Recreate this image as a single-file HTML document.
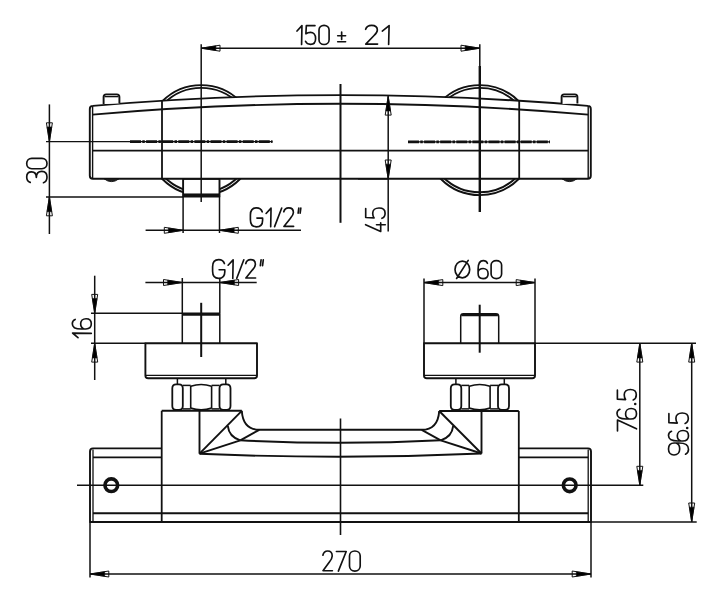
<!DOCTYPE html>
<html><head><meta charset="utf-8"><style>
html,body{margin:0;padding:0;background:#fff;}
svg{display:block;}
</style></head><body>
<svg width="716" height="600" viewBox="0 0 716 600">
<rect width="716" height="600" fill="#fff"/>
<g>
<path d="M 297.00 31.06 L 301.95 25.59 L 301.59 44.50" fill="none" stroke="#111" stroke-width="1.65" stroke-linecap="round" stroke-linejoin="round"/>
<path d="M 314.99 25.68 L 306.31 25.68 L 305.90 33.75 C 307.12 32.88 308.73 32.40 310.45 32.40 C 313.58 32.40 315.60 34.90 315.60 38.45 C 315.60 42.10 313.58 44.31 310.55 44.31 C 308.13 44.31 306.31 43.16 305.50 41.24" fill="none" stroke="#111" stroke-width="1.65" stroke-linecap="round" stroke-linejoin="round"/>
<path d="M 319.00 30.10 C 319.00 27.22 321.22 25.30 324.05 25.30 C 326.88 25.30 329.10 27.22 329.10 30.10 L 329.10 39.70 C 329.10 42.58 326.88 44.50 324.05 44.50 C 321.22 44.50 319.00 42.58 319.00 39.70 Z" fill="none" stroke="#111" stroke-width="1.65" stroke-linecap="round" stroke-linejoin="round"/>
<path d="M 341.65 32.00 L 341.65 39.47 M 337.70 35.74 L 345.60 35.74 M 337.70 41.70 L 345.60 41.70" fill="none" stroke="#111" stroke-width="1.65" stroke-linecap="round" stroke-linejoin="round"/>
<path d="M 365.64 29.33 C 366.38 26.74 368.69 25.30 371.62 25.30 C 375.16 25.30 377.36 27.22 377.36 30.00 C 377.36 32.21 375.89 33.84 373.82 35.76 L 365.77 44.12 L 377.60 44.12" fill="none" stroke="#111" stroke-width="1.65" stroke-linecap="round" stroke-linejoin="round"/>
<path d="M 382.30 31.06 L 389.11 25.59 L 388.63 44.50" fill="none" stroke="#111" stroke-width="1.65" stroke-linecap="round" stroke-linejoin="round"/>
<path d="M 30.25 182.36 C 27.92 181.56 26.70 179.51 26.70 177.00 C 26.70 174.04 28.53 171.87 31.57 171.87 C 34.52 171.87 36.34 174.15 36.34 177.46 C 36.34 173.58 38.58 171.30 41.82 171.30 C 45.17 171.30 47.00 173.81 47.00 177.00 C 47.00 179.85 45.78 181.90 43.45 182.70" fill="none" stroke="#111" stroke-width="1.65" stroke-linecap="round" stroke-linejoin="round"/>
<path d="M 31.77 168.70 C 28.73 168.70 26.70 166.41 26.70 163.50 C 26.70 160.59 28.73 158.30 31.77 158.30 L 41.92 158.30 C 44.97 158.30 47.00 160.59 47.00 163.50 C 47.00 166.41 44.97 168.70 41.92 168.70 Z" fill="none" stroke="#111" stroke-width="1.65" stroke-linecap="round" stroke-linejoin="round"/>
<path d="M 262.19 211.79 C 261.38 209.13 259.35 207.80 256.50 207.80 C 252.64 207.80 250.40 210.65 250.40 214.93 L 250.40 219.68 C 250.40 223.95 252.64 226.80 256.50 226.80 C 260.36 226.80 262.60 224.43 262.60 220.15 L 262.60 218.06 L 256.91 218.06" fill="none" stroke="#111" stroke-width="1.65" stroke-linecap="round" stroke-linejoin="round"/>
<path d="M 266.10 213.50 L 271.05 208.09 L 270.69 226.80" fill="none" stroke="#111" stroke-width="1.65" stroke-linecap="round" stroke-linejoin="round"/>
<path d="M 281.72 207.99 L 274.58 226.61" fill="none" stroke="#111" stroke-width="1.65" stroke-linecap="round" stroke-linejoin="round"/>
<path d="M 283.80 211.79 C 284.40 209.23 286.30 207.80 288.70 207.80 C 291.60 207.80 293.40 209.70 293.40 212.46 C 293.40 214.64 292.20 216.26 290.50 218.16 L 283.90 226.42 L 293.60 226.42" fill="none" stroke="#111" stroke-width="1.65" stroke-linecap="round" stroke-linejoin="round"/>
<path d="M 298.81 208.08 L 298.15 213.12 M 300.82 208.08 L 300.15 213.12" fill="none" stroke="#111" stroke-width="1.65" stroke-linecap="round" stroke-linejoin="round"/>
<path d="M 365.60 224.70 L 380.70 231.40 L 380.70 222.70 M 376.50 224.70 L 385.30 224.70" fill="none" stroke="#111" stroke-width="1.65" stroke-linecap="round" stroke-linejoin="round"/>
<path d="M 365.70 208.62 L 365.70 217.48 L 374.10 217.89 C 373.20 216.65 372.70 215.00 372.70 213.25 C 372.70 210.06 375.30 208.00 379.00 208.00 C 382.80 208.00 385.10 210.06 385.10 213.15 C 385.10 215.62 383.90 217.48 381.90 218.30" fill="none" stroke="#111" stroke-width="1.65" stroke-linecap="round" stroke-linejoin="round"/>
<path d="M 224.39 263.55 C 223.58 260.92 221.55 259.60 218.70 259.60 C 214.84 259.60 212.60 262.42 212.60 266.65 L 212.60 271.35 C 212.60 275.58 214.84 278.40 218.70 278.40 C 222.56 278.40 224.80 276.05 224.80 271.82 L 224.80 269.75 L 219.11 269.75" fill="none" stroke="#111" stroke-width="1.65" stroke-linecap="round" stroke-linejoin="round"/>
<path d="M 228.10 265.24 L 233.14 259.88 L 232.78 278.40" fill="none" stroke="#111" stroke-width="1.65" stroke-linecap="round" stroke-linejoin="round"/>
<path d="M 243.82 259.79 L 236.78 278.21" fill="none" stroke="#111" stroke-width="1.65" stroke-linecap="round" stroke-linejoin="round"/>
<path d="M 245.80 263.55 C 246.40 261.01 248.30 259.60 250.70 259.60 C 253.60 259.60 255.40 261.48 255.40 264.21 C 255.40 266.37 254.20 267.97 252.50 269.85 L 245.90 278.02 L 255.60 278.02" fill="none" stroke="#111" stroke-width="1.65" stroke-linecap="round" stroke-linejoin="round"/>
<path d="M 261.09 259.92 L 260.35 265.69 M 263.28 259.92 L 262.55 265.69" fill="none" stroke="#111" stroke-width="1.65" stroke-linecap="round" stroke-linejoin="round"/>
<path d="M 462.35 261.10 C 466.40 261.10 469.70 264.90 469.70 269.50 C 469.70 274.10 466.40 277.80 462.35 277.80 C 458.30 277.80 455.00 274.10 455.00 269.50 C 455.00 264.90 458.30 261.10 462.35 261.10 Z M 468.20 260.40 L 456.60 278.50" fill="none" stroke="#111" stroke-width="1.65" stroke-linecap="round" stroke-linejoin="round"/>
<path d="M 487.40 263.30 C 486.70 261.50 485.10 260.60 483.30 260.60 C 480.10 260.60 478.10 263.30 478.10 269.15 L 478.10 273.47 C 478.10 276.80 480.30 278.60 483.10 278.60 C 485.90 278.60 488.10 276.80 488.10 273.65 C 488.10 270.50 485.90 268.52 483.10 268.52 C 480.60 268.52 478.70 269.78 478.10 271.85" fill="none" stroke="#111" stroke-width="1.65" stroke-linecap="round" stroke-linejoin="round"/>
<path d="M 491.10 265.10 C 491.10 262.40 493.41 260.60 496.35 260.60 C 499.29 260.60 501.60 262.40 501.60 265.10 L 501.60 274.10 C 501.60 276.80 499.29 278.60 496.35 278.60 C 493.41 278.60 491.10 276.80 491.10 274.10 Z" fill="none" stroke="#111" stroke-width="1.65" stroke-linecap="round" stroke-linejoin="round"/>
<path d="M 78.00 337.60 L 72.58 333.12 L 91.30 333.44" fill="none" stroke="#111" stroke-width="1.65" stroke-linecap="round" stroke-linejoin="round"/>
<path d="M 75.15 319.42 C 73.25 320.14 72.30 321.79 72.30 323.64 C 72.30 326.94 75.15 329.00 81.33 329.00 L 85.88 329.00 C 89.40 329.00 91.30 326.73 91.30 323.85 C 91.30 320.97 89.40 318.70 86.08 318.70 C 82.75 318.70 80.66 320.97 80.66 323.85 C 80.66 326.43 81.99 328.38 84.17 329.00" fill="none" stroke="#111" stroke-width="1.65" stroke-linecap="round" stroke-linejoin="round"/>
<path d="M 322.89 555.22 C 323.48 552.51 325.32 551.00 327.65 551.00 C 330.46 551.00 332.21 553.01 332.21 555.92 C 332.21 558.24 331.04 559.94 329.39 561.95 L 322.99 570.70 L 332.40 570.70" fill="none" stroke="#111" stroke-width="1.65" stroke-linecap="round" stroke-linejoin="round"/>
<path d="M 336.40 551.50 L 346.20 551.50 L 338.36 571.10" fill="none" stroke="#111" stroke-width="1.65" stroke-linecap="round" stroke-linejoin="round"/>
<path d="M 349.50 556.02 C 349.50 553.01 351.85 551.00 354.85 551.00 C 357.85 551.00 360.20 553.01 360.20 556.02 L 360.20 566.08 C 360.20 569.09 357.85 571.10 354.85 571.10 C 351.85 571.10 349.50 569.09 349.50 566.08 Z" fill="none" stroke="#111" stroke-width="1.65" stroke-linecap="round" stroke-linejoin="round"/>
<path d="M 617.49 431.00 L 617.49 420.00 L 636.50 428.80" fill="none" stroke="#111" stroke-width="1.65" stroke-linecap="round" stroke-linejoin="round"/>
<path d="M 619.92 409.24 C 617.98 409.97 617.00 411.65 617.00 413.54 C 617.00 416.90 619.92 419.00 626.26 419.00 L 630.94 419.00 C 634.55 419.00 636.50 416.69 636.50 413.75 C 636.50 410.81 634.55 408.50 631.14 408.50 C 627.73 408.50 625.58 410.81 625.58 413.75 C 625.58 416.38 626.95 418.37 629.19 419.00" fill="none" stroke="#111" stroke-width="1.65" stroke-linecap="round" stroke-linejoin="round"/>
<circle cx="635.23" cy="404.00" r="1.3" fill="#111"/>
<path d="M 617.39 390.13 L 617.39 399.16 L 625.58 399.58 C 624.70 398.32 624.22 396.64 624.22 394.86 C 624.22 391.60 626.75 389.50 630.36 389.50 C 634.06 389.50 636.30 391.60 636.30 394.75 C 636.30 397.27 635.13 399.16 633.18 400.00" fill="none" stroke="#111" stroke-width="1.65" stroke-linecap="round" stroke-linejoin="round"/>
<path d="M 685.50 454.16 C 687.50 453.32 688.50 451.40 688.50 449.24 C 688.50 445.40 685.50 443.00 679.00 443.00 L 674.20 443.00 C 670.50 443.00 668.50 445.64 668.50 449.00 C 668.50 452.36 670.50 455.00 674.00 455.00 C 677.50 455.00 679.70 452.36 679.70 449.00 C 679.70 446.00 678.30 443.72 676.00 443.00" fill="none" stroke="#111" stroke-width="1.65" stroke-linecap="round" stroke-linejoin="round"/>
<path d="M 671.50 431.24 C 669.50 431.97 668.50 433.65 668.50 435.54 C 668.50 438.90 671.50 441.00 678.00 441.00 L 682.80 441.00 C 686.50 441.00 688.50 438.69 688.50 435.75 C 688.50 432.81 686.50 430.50 683.00 430.50 C 679.50 430.50 677.30 432.81 677.30 435.75 C 677.30 438.38 678.70 440.37 681.00 441.00" fill="none" stroke="#111" stroke-width="1.65" stroke-linecap="round" stroke-linejoin="round"/>
<circle cx="687.20" cy="428.00" r="1.3" fill="#111"/>
<path d="M 668.90 413.63 L 668.90 422.66 L 677.30 423.08 C 676.40 421.82 675.90 420.14 675.90 418.36 C 675.90 415.10 678.50 413.00 682.20 413.00 C 686.00 413.00 688.30 415.10 688.30 418.25 C 688.30 420.77 687.10 422.66 685.10 423.50" fill="none" stroke="#111" stroke-width="1.65" stroke-linecap="round" stroke-linejoin="round"/>
</g>
<g fill="none" stroke="#111" stroke-width="1.9" stroke-linecap="butt" stroke-linejoin="round">
<circle cx="201.20" cy="140.10" r="55" />
<circle cx="201.20" cy="140.10" r="52.2" />
<circle cx="479.80" cy="140.10" r="55" />
<circle cx="479.80" cy="140.10" r="52.2" />
<path d="M183.10 178.8 L183.10 196.5 L219.50 196.5 L219.50 178.8 Z" fill="#fff"/>
<path d="M183.10 178.6 Q187.10 177.2 191.10 177.2 L211.50 177.2 Q215.50 177.2 219.50 178.6" />
<rect x="183.60" y="193.9" width="35.40" height="2.6" fill="#111" stroke-width="0.8"/>
<path d="M89.8 109 Q89.8 106 92.8 105.9 A2846 2846 0 0 1 587.8 105.9 Q590.8 106 590.8 109 L590.8 175.8 Q590.8 178.8 587.8 178.8 L92.8 178.8 Q89.8 178.8 89.8 175.8 Z" fill="#fff"/>
<line x1="92.60" y1="106.00" x2="92.60" y2="178.80" stroke-width="1.4"/>
<line x1="588.20" y1="106.00" x2="588.20" y2="178.80" stroke-width="1.4"/>
<path d="M92.6 114.6 A2846 2846 0 0 1 588.2 114.6"/>
<line x1="92.60" y1="150.60" x2="588.20" y2="150.60"/>
<line x1="162.00" y1="100.50" x2="162.00" y2="178.80" stroke-width="1.8"/>
<line x1="519.20" y1="100.50" x2="519.20" y2="178.80" stroke-width="1.8"/>
<path d="M103.60 104 L103.60 97 Q103.60 94.4 106.20 94.4 L116.80 94.4 Q119.40 94.4 119.40 97 L119.40 103.5" fill="#fff"/>
<line x1="104.60" y1="96.60" x2="118.40" y2="96.60" stroke-width="1.4"/>
<path d="M104.10 178.8 Q107.60 181.6 111.50 181.6 Q115.40 181.6 118.90 178.8 Z" stroke-width="1.0" fill="#222"/>
<path d="M561.60 104 L561.60 97 Q561.60 94.4 564.20 94.4 L574.80 94.4 Q577.40 94.4 577.40 97 L577.40 103.5" fill="#fff"/>
<line x1="562.60" y1="96.60" x2="576.40" y2="96.60" stroke-width="1.4"/>
<path d="M562.10 178.8 Q565.60 181.6 569.50 181.6 Q573.40 181.6 576.90 178.8 Z" stroke-width="1.0" fill="#222"/>
<line x1="46.00" y1="141.60" x2="162.00" y2="141.60" stroke-width="1.4"/>
<line x1="162.00" y1="141.60" x2="272.50" y2="141.60" stroke-width="1.3"/>
<path d="M130 141.6 L272.5 141.6" stroke-width="2.7" stroke-dasharray="11 1.3 2.5 1.3"/>
<line x1="408.00" y1="141.80" x2="550.00" y2="141.80" stroke-width="1.3"/>
<path d="M408 141.8 L550 141.8" stroke-width="2.7" stroke-dasharray="11 1.3 2.5 1.3"/>
<line x1="201.20" y1="44.20" x2="201.20" y2="202.00" stroke-width="1.5"/>
<line x1="479.80" y1="44.20" x2="479.80" y2="66.00" stroke-width="1.5"/>
<line x1="479.80" y1="66.00" x2="479.80" y2="212.00" stroke-width="2.4"/>
<line x1="340.50" y1="84.00" x2="340.50" y2="222.80" stroke-width="2.0"/>
<line x1="201.20" y1="48.20" x2="479.80" y2="48.20" stroke-width="1.5"/>
<path d="M201.20 48.20 L220.00 45.20 L220.00 51.20 Z" stroke-width="1" fill="none"/>
<path d="M201.20 48.20 L215.86 45.86 L215.86 50.54 Z" stroke-width="0.6" fill="#000"/>
<path d="M479.80 48.20 L461.00 51.20 L461.00 45.20 Z" stroke-width="1" fill="none"/>
<path d="M479.80 48.20 L465.14 50.54 L465.14 45.86 Z" stroke-width="0.6" fill="#000"/>
<line x1="49.40" y1="104.40" x2="49.40" y2="234.00" stroke-width="1.5"/>
<path d="M49.40 141.60 L46.40 122.80 L52.40 122.80 Z" stroke-width="1" fill="none"/>
<path d="M49.40 141.60 L47.06 126.94 L51.74 126.94 Z" stroke-width="0.6" fill="#000"/>
<path d="M49.40 197.00 L52.40 215.80 L46.40 215.80 Z" stroke-width="1" fill="none"/>
<path d="M49.40 197.00 L51.74 211.66 L47.06 211.66 Z" stroke-width="0.6" fill="#000"/>
<line x1="46.00" y1="197.00" x2="183.10" y2="197.00" stroke-width="1.4"/>
<line x1="183.10" y1="196.50" x2="183.10" y2="233.00" stroke-width="1.5"/>
<line x1="219.50" y1="196.50" x2="219.50" y2="233.00" stroke-width="1.5"/>
<line x1="145.60" y1="230.30" x2="301.00" y2="230.30" stroke-width="1.5"/>
<path d="M183.10 230.30 L164.30 233.30 L164.30 227.30 Z" stroke-width="1" fill="none"/>
<path d="M183.10 230.30 L168.44 232.64 L168.44 227.96 Z" stroke-width="0.6" fill="#000"/>
<path d="M219.50 230.30 L238.30 227.30 L238.30 233.30 Z" stroke-width="1" fill="none"/>
<path d="M219.50 230.30 L234.16 227.96 L234.16 232.64 Z" stroke-width="0.6" fill="#000"/>
<line x1="388.20" y1="96.30" x2="388.20" y2="231.60" stroke-width="1.5"/>
<path d="M388.20 96.30 L391.20 115.10 L385.20 115.10 Z" stroke-width="1" fill="none"/>
<path d="M388.20 96.30 L390.54 110.96 L385.86 110.96 Z" stroke-width="0.6" fill="#000"/>
<path d="M388.20 178.80 L385.20 160.00 L391.20 160.00 Z" stroke-width="1" fill="none"/>
<path d="M388.20 178.80 L385.86 164.14 L390.54 164.14 Z" stroke-width="0.6" fill="#000"/>
<line x1="358.00" y1="178.80" x2="388.20" y2="178.80" stroke-width="1.5"/>
<line x1="145.40" y1="282.50" x2="256.70" y2="282.50" stroke-width="1.5"/>
<path d="M182.30 282.50 L163.50 285.50 L163.50 279.50 Z" stroke-width="1" fill="none"/>
<path d="M182.30 282.50 L167.64 284.84 L167.64 280.16 Z" stroke-width="0.6" fill="#000"/>
<path d="M219.80 282.50 L238.60 279.50 L238.60 285.50 Z" stroke-width="1" fill="none"/>
<path d="M219.80 282.50 L234.46 280.16 L234.46 284.84 Z" stroke-width="0.6" fill="#000"/>
<line x1="182.30" y1="278.00" x2="182.30" y2="313.20" stroke-width="1.5"/>
<line x1="219.80" y1="278.00" x2="219.80" y2="313.20" stroke-width="1.5"/>
<line x1="424.00" y1="282.60" x2="535.00" y2="282.60" stroke-width="1.5"/>
<path d="M424.00 282.60 L442.80 279.60 L442.80 285.60 Z" stroke-width="1" fill="none"/>
<path d="M424.00 282.60 L438.66 280.26 L438.66 284.94 Z" stroke-width="0.6" fill="#000"/>
<path d="M535.00 282.60 L516.20 285.60 L516.20 279.60 Z" stroke-width="1" fill="none"/>
<path d="M535.00 282.60 L520.34 284.94 L520.34 280.26 Z" stroke-width="0.6" fill="#000"/>
<line x1="424.00" y1="278.50" x2="424.00" y2="343.30" stroke-width="1.5"/>
<line x1="535.00" y1="278.50" x2="535.00" y2="343.30" stroke-width="1.5"/>
<line x1="94.70" y1="275.70" x2="94.70" y2="380.00" stroke-width="1.5"/>
<path d="M94.70 313.20 L91.70 294.40 L97.70 294.40 Z" stroke-width="1" fill="none"/>
<path d="M94.70 313.20 L92.36 298.54 L97.04 298.54 Z" stroke-width="0.6" fill="#000"/>
<path d="M94.70 343.30 L97.70 362.10 L91.70 362.10 Z" stroke-width="1" fill="none"/>
<path d="M94.70 343.30 L97.04 357.96 L92.36 357.96 Z" stroke-width="0.6" fill="#000"/>
<line x1="91.00" y1="313.20" x2="219.80" y2="313.20" stroke-width="1.4"/>
<line x1="91.00" y1="343.30" x2="145.40" y2="343.30" stroke-width="1.4"/>
<path d="M182.3 343.3 L182.3 313.2 M219.8 313.2 L219.8 343.3" stroke-width="1.5"/>
<path d="M182.3 314.3 L219.8 314.3" stroke-width="2.8"/>
<path d="M460.7 343.3 L460.7 316.5 Q460.7 313.8 463.4 313.8 L496 313.8 Q498.7 313.8 498.7 316.5 L498.7 343.3" stroke-width="1.5"/>
<path d="M461.5 315.2 L497.9 315.2" stroke-width="2.2"/>
<path d="M145.40 343.3 L145.40 375.5 Q145.40 378.3 148.20 378.3 L254.20 378.3 Q257.00 378.3 257.00 375.5 L257.00 343.3 Z"/>
<line x1="145.90" y1="375.40" x2="256.50" y2="375.40" stroke-width="1.4"/>
<path d="M424.00 343.3 L424.00 375.5 Q424.00 378.3 426.80 378.3 L532.20 378.3 Q535.00 378.3 535.00 375.5 L535.00 343.3 Z"/>
<line x1="424.50" y1="375.40" x2="534.50" y2="375.40" stroke-width="1.4"/>
<line x1="535.00" y1="343.30" x2="696.00" y2="343.30" stroke-width="1.5"/>
<line x1="201.20" y1="302.80" x2="201.20" y2="357.00" stroke-width="2.0"/>
<line x1="479.70" y1="304.70" x2="479.70" y2="352.70" stroke-width="2.0"/>
<line x1="177.40" y1="378.30" x2="177.40" y2="384.40" stroke-width="1.5"/>
<line x1="225.80" y1="378.30" x2="225.80" y2="384.40" stroke-width="1.5"/>
<path d="M176.10 384.40 L179.00 384.40 Q182.80 384.40 182.80 388.20 L182.80 406.10 Q182.80 409.90 179.00 409.90 L176.10 409.90 Q172.30 409.90 172.30 406.10 L172.30 388.20 Q172.30 384.40 176.10 384.40 Z" stroke-width="1.8"/>
<path d="M223.30 384.40 L226.70 384.40 Q230.50 384.40 230.50 388.20 L230.50 406.10 Q230.50 409.90 226.70 409.90 L223.30 409.90 Q219.50 409.90 219.50 406.10 L219.50 388.20 Q219.50 384.40 223.30 384.40 Z" stroke-width="1.8"/>
<line x1="182.80" y1="385.40" x2="190.70" y2="385.40" stroke-width="1.5"/>
<line x1="182.80" y1="408.90" x2="190.70" y2="408.90" stroke-width="1.5"/>
<line x1="211.60" y1="385.40" x2="219.50" y2="385.40" stroke-width="1.5"/>
<line x1="211.60" y1="408.90" x2="219.50" y2="408.90" stroke-width="1.5"/>
<line x1="190.70" y1="385.90" x2="190.70" y2="408.40" stroke-width="1.6"/>
<line x1="211.60" y1="385.90" x2="211.60" y2="408.40" stroke-width="1.6"/>
<path d="M190.70 386.20 Q201.20 382.80 211.60 386.20" stroke-width="1.7"/>
<path d="M190.70 408.10 Q201.20 411.50 211.60 408.10" stroke-width="1.7"/>
<line x1="455.90" y1="378.30" x2="455.90" y2="384.40" stroke-width="1.5"/>
<line x1="504.30" y1="378.30" x2="504.30" y2="384.40" stroke-width="1.5"/>
<path d="M454.60 384.40 L457.50 384.40 Q461.30 384.40 461.30 388.20 L461.30 406.10 Q461.30 409.90 457.50 409.90 L454.60 409.90 Q450.80 409.90 450.80 406.10 L450.80 388.20 Q450.80 384.40 454.60 384.40 Z" stroke-width="1.8"/>
<path d="M501.80 384.40 L505.20 384.40 Q509.00 384.40 509.00 388.20 L509.00 406.10 Q509.00 409.90 505.20 409.90 L501.80 409.90 Q498.00 409.90 498.00 406.10 L498.00 388.20 Q498.00 384.40 501.80 384.40 Z" stroke-width="1.8"/>
<line x1="461.30" y1="385.40" x2="469.20" y2="385.40" stroke-width="1.5"/>
<line x1="461.30" y1="408.90" x2="469.20" y2="408.90" stroke-width="1.5"/>
<line x1="490.10" y1="385.40" x2="498.00" y2="385.40" stroke-width="1.5"/>
<line x1="490.10" y1="408.90" x2="498.00" y2="408.90" stroke-width="1.5"/>
<line x1="469.20" y1="385.90" x2="469.20" y2="408.40" stroke-width="1.6"/>
<line x1="490.10" y1="385.90" x2="490.10" y2="408.40" stroke-width="1.6"/>
<path d="M469.20 386.20 Q479.70 382.80 490.10 386.20" stroke-width="1.7"/>
<path d="M469.20 408.10 Q479.70 411.50 490.10 408.10" stroke-width="1.7"/>
<line x1="161.70" y1="410.80" x2="161.70" y2="522.00" stroke-width="1.8"/>
<line x1="518.80" y1="411.00" x2="518.80" y2="522.00" stroke-width="1.8"/>
<line x1="161.70" y1="410.80" x2="241.80" y2="410.80"/>
<line x1="439.20" y1="411.00" x2="518.80" y2="411.00"/>
<line x1="199.50" y1="410.80" x2="199.50" y2="453.70"/>
<line x1="481.50" y1="411.00" x2="481.50" y2="453.50"/>
<path d="M241.8 410.8 Q243 429.8 259.3 429.8 L421.7 429.8 Q438 429.8 439.2 411.0"/>
<path d="M240.3 440.3 Q340.5 445.3 440.7 440.3"/>
<path d="M199.5 453.7 Q340.5 459.9 481.5 453.5"/>
<line x1="199.50" y1="453.70" x2="241.80" y2="410.80"/>
<line x1="199.50" y1="453.70" x2="240.30" y2="440.30"/>
<line x1="240.30" y1="440.30" x2="259.30" y2="429.80"/>
<line x1="481.50" y1="453.50" x2="439.20" y2="411.00"/>
<line x1="481.50" y1="453.50" x2="440.70" y2="440.30"/>
<line x1="440.70" y1="440.30" x2="421.70" y2="429.80"/>
<path d="M227.8 425.9 Q229 437 240.3 440.3"/>
<path d="M453.2 425.9 Q452 437 440.7 440.3"/>
<path d="M161.7 448.4 L93.0 448.4 Q90.0 448.4 90.0 451.4 L90.0 522.0 L591.0 522.0 L591.0 451.4 Q591 448.4 588 448.4 L518.8 448.4"/>
<line x1="93.00" y1="449.50" x2="93.00" y2="522.00" stroke-width="1.3"/>
<line x1="588.20" y1="449.50" x2="588.20" y2="522.00" stroke-width="1.3"/>
<line x1="93.00" y1="457.40" x2="161.70" y2="457.40"/>
<line x1="518.80" y1="457.40" x2="588.20" y2="457.40"/>
<line x1="93.00" y1="513.30" x2="588.20" y2="513.30"/>
<line x1="77.00" y1="485.30" x2="643.30" y2="485.30" stroke-width="1.5"/>
<circle cx="111.3" cy="485.2" r="6.35" stroke-width="3.6"/>
<circle cx="569.7" cy="485.3" r="6.35" stroke-width="3.6"/>
<line x1="340.50" y1="418.50" x2="340.50" y2="535.00" stroke-width="1.6"/>
<line x1="90.00" y1="522.00" x2="90.00" y2="577.60" stroke-width="1.5"/>
<line x1="591.00" y1="522.00" x2="591.00" y2="577.60" stroke-width="1.5"/>
<line x1="90.00" y1="574.00" x2="591.00" y2="574.00" stroke-width="1.5"/>
<path d="M90.00 574.00 L108.80 571.00 L108.80 577.00 Z" stroke-width="1" fill="none"/>
<path d="M90.00 574.00 L104.66 571.66 L104.66 576.34 Z" stroke-width="0.6" fill="#000"/>
<path d="M591.00 574.00 L572.20 577.00 L572.20 571.00 Z" stroke-width="1" fill="none"/>
<path d="M591.00 574.00 L576.34 576.34 L576.34 571.66 Z" stroke-width="0.6" fill="#000"/>
<line x1="639.80" y1="343.30" x2="639.80" y2="485.10" stroke-width="1.5"/>
<path d="M639.80 343.30 L642.80 362.10 L636.80 362.10 Z" stroke-width="1" fill="none"/>
<path d="M639.80 343.30 L642.14 357.96 L637.46 357.96 Z" stroke-width="0.6" fill="#000"/>
<path d="M639.80 485.10 L636.80 466.30 L642.80 466.30 Z" stroke-width="1" fill="none"/>
<path d="M639.80 485.10 L637.46 470.44 L642.14 470.44 Z" stroke-width="0.6" fill="#000"/>
<line x1="591.00" y1="521.90" x2="696.70" y2="521.90" stroke-width="1.5"/>
<line x1="691.70" y1="343.30" x2="691.70" y2="521.80" stroke-width="1.5"/>
<path d="M691.70 343.30 L694.70 362.10 L688.70 362.10 Z" stroke-width="1" fill="none"/>
<path d="M691.70 343.30 L694.04 357.96 L689.36 357.96 Z" stroke-width="0.6" fill="#000"/>
<path d="M691.70 521.80 L688.70 503.00 L694.70 503.00 Z" stroke-width="1" fill="none"/>
<path d="M691.70 521.80 L689.36 507.14 L694.04 507.14 Z" stroke-width="0.6" fill="#000"/>
</g>
</svg>
</body></html>
